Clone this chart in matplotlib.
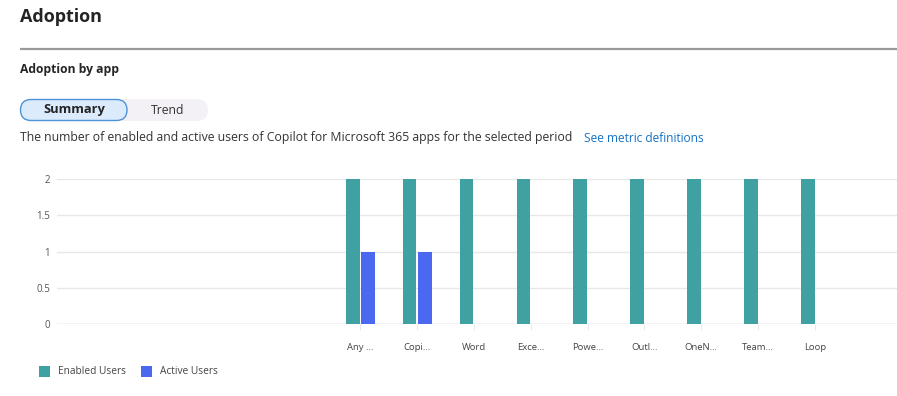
import matplotlib
matplotlib.use("Agg")
import matplotlib.pyplot as plt
from matplotlib.patches import FancyBboxPatch, Rectangle
import numpy as np

plt.rcParams['font.family'] = ['Open Sans', 'DejaVu Sans']

apps = ["Any …", "Copi…", "Word", "Exce…", "Powe…", "Outl…", "OneN…", "Team…", "Loop"]
enabled_users = [2, 2, 2, 2, 2, 2, 2, 2, 2]
active_users = [1, 1, 0, 0, 0, 0, 0, 0, 0]
y_ticks = [0, 0.5, 1, 1.5, 2]
y_tick_labels = ["0", "0.5", "1", "1.5", "2"]

TEAL = "#40a1a3"
BLUE = "#4a68f0"

W, H = 897, 396
fig = plt.figure(figsize=(W / 100, H / 100), dpi=100)

# Overlay axes in pixel coordinates for header & legend
ov = fig.add_axes([0, 0, 1, 1])
ov.set_xlim(0, W)
ov.set_ylim(H, 0)
ov.axis("off")

ov.text(20, 17, "Adoption", fontsize=13, fontweight="bold", color="#242424", va="center", ha="left")
ov.plot([20, 897], [49, 49], color="#9a9a9a", lw=1.6, solid_capstyle="butt")
ov.text(20, 70, "Adoption by app", fontsize=8.7, fontweight="bold", color="#242424", va="center", ha="left")

# Toggle
ov.add_patch(FancyBboxPatch((20, 99), 188, 22, boxstyle="round,pad=0,rounding_size=11",
                            facecolor="#f3f1f5", edgecolor="none"))
ov.add_patch(FancyBboxPatch((20.5, 99.5), 106.5, 21, boxstyle="round,pad=0,rounding_size=10.5",
                            facecolor="#dcebfc", edgecolor="#4d93da", lw=1.0))
ov.text(74, 110, "Summary", fontsize=9.3, fontweight="bold", color="#242424", va="center", ha="center")
ov.text(168, 110, "Trend", fontsize=8.8, color="#333333", va="center", ha="center")

desc = "The number of enabled and active users of Copilot for Microsoft 365 apps for the selected period"
ov.text(20, 138, desc, fontsize=8.85, color="#333333", va="center", ha="left")
ov.text(584, 138, "See metric definitions", fontsize=8.6, color="#1673c5", va="center", ha="left")

# Legend
ov.add_patch(Rectangle((39, 366), 11, 11, facecolor=TEAL, edgecolor="none"))
ov.text(57.5, 371.5, "Enabled Users", fontsize=7.3, color="#444444", va="center", ha="left")
ov.add_patch(Rectangle((141, 366), 11, 11, facecolor=BLUE, edgecolor="none"))
ov.text(160, 371.5, "Active Users", fontsize=7.3, color="#444444", va="center", ha="left")

# Chart axes
ax = fig.add_axes([57 / W, 1 - 324 / H, 1 - 57 / W, (324 - 179) / H])
x = np.arange(len(apps))
w = 0.24
ax.bar(x - 0.13, enabled_users, width=w, color=TEAL, zorder=3, label="Enabled Users")
ax.bar(x + 0.135, active_users, width=w, color=BLUE, zorder=3, label="Active Users")

ax.set_xlim(-5.33, 9.44)
ax.set_ylim(0, 2)
ax.set_yticks(y_ticks)
ax.set_yticklabels(y_tick_labels)
ax.set_xticks(x)
ax.set_xticklabels(apps)
ax.tick_params(axis="y", length=0, pad=5, labelsize=7, labelcolor="#555555")
ax.tick_params(axis="x", length=4, width=0.6, color="#e6e6e6", pad=10, labelsize=6.8, labelcolor="#444444")
for s in ax.spines.values():
    s.set_visible(False)
ax.grid(axis="y", color="#e8e8e8", lw=1.0, zorder=0)
ax.axhline(0, color="#d6d6d6", lw=1.0, zorder=2)
ax.patch.set_visible(False)

fig.savefig("out.png", dpi=100)
